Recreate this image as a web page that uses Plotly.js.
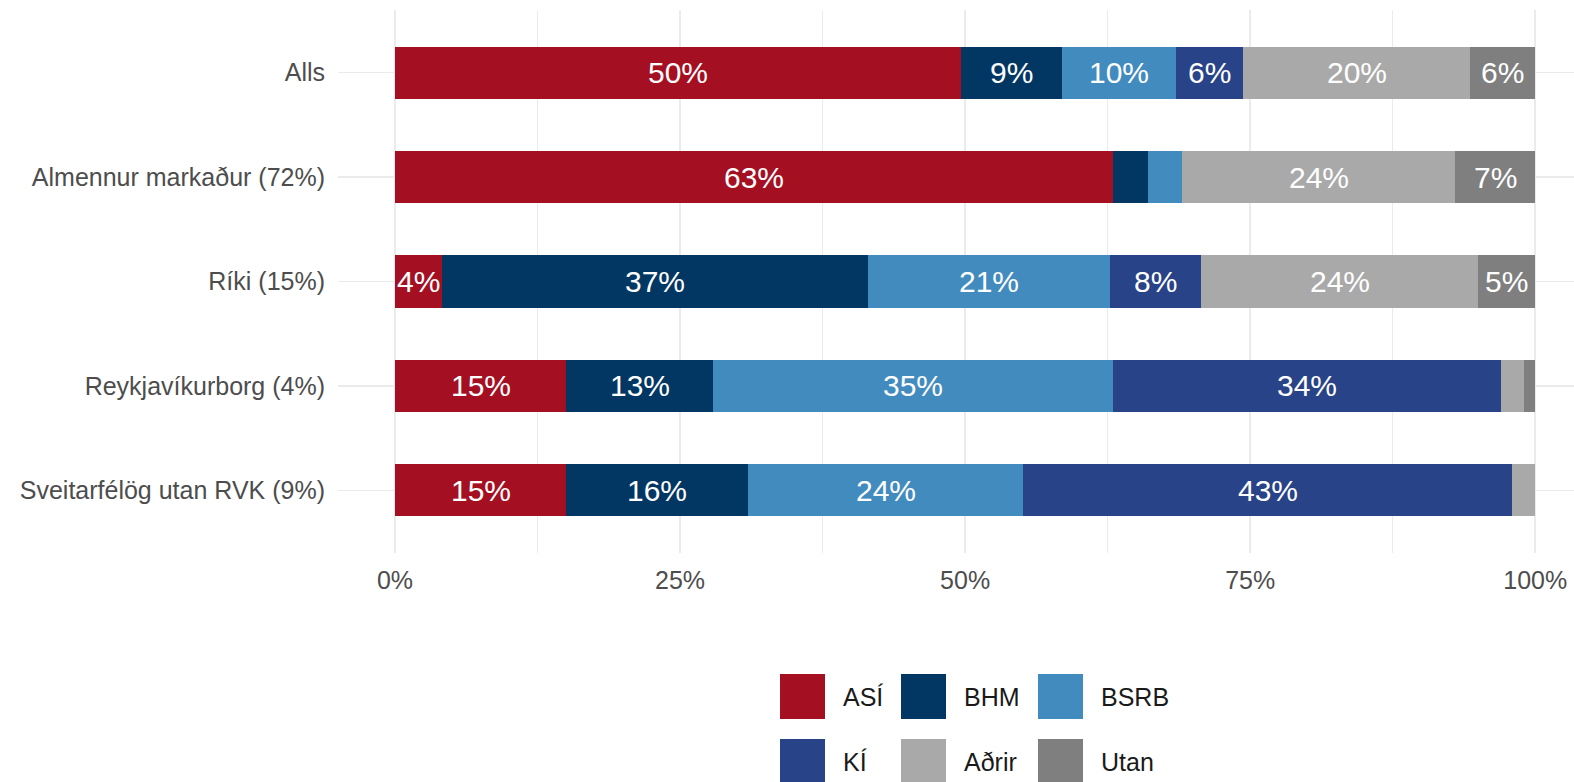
<!DOCTYPE html>
<html>
<head>
<meta charset="utf-8">
<script src="https://cdn.plot.ly/plotly-3.0.1.min.js"></script>
<style>html,body{margin:0;padding:0;background:#fff;}#chart{width:1574px;height:782px;}</style>
</head>
<body>
<div id="chart"></div>
<script>
// ---- data ----
const categories = ['Alls', 'Almennur markaður (72%)', 'Ríki (15%)', 'Reykjavíkurborg (4%)', 'Sveitarfélög utan RVK (9%)'];
const seriesNames = ['ASÍ', 'BHM', 'BSRB', 'KÍ', 'Aðrir', 'Utan'];
const asi   = [49.6, 63.0, 4.1, 15.0, 15.0];
const bhm   = [8.9, 3.0, 37.4, 12.9, 16.0];
const bsrb  = [10.0, 3.0, 21.2, 35.1, 24.1];
const ki    = [5.9, 0.0, 8.0, 34.0, 42.9];
const adrir = [19.9, 24.0, 24.3, 2.0, 2.0];
const utan  = [5.7, 7.0, 5.0, 1.0, 0.0];
const xTickVals = [0, 25, 50, 75, 100];
const xTickText = ['0%', '25%', '50%', '75%', '100%'];

// ---- styling ----
const colors = ['#A50F22', '#023763', '#428BBF', '#284387', '#A9A9A9', '#7F7F7F'];
const series = [asi, bhm, bsrb, ki, adrir, utan];
const FONT = 'Liberation Sans, Arial, sans-serif';

const W = 1574, H = 782;
const M = {l: 338, r: 0, t: 10, b: 229};
const plotW = W - M.l - M.r, plotH = H - M.t - M.b;
const px2x = X => (X - M.l) / plotW;
const px2y = Y => (H - M.b - Y) / plotH;

const traces = series.map((vals, i) => ({
  type: 'bar',
  orientation: 'h',
  name: seriesNames[i],
  y: categories,
  x: vals,
  marker: {color: colors[i], line: {width: 0}},
  showlegend: false,
  hoverinfo: 'name+x'
}));

// in-bar labels
const annotations = [];
const cum = categories.map(() => 0);
series.forEach((vals, i) => {
  vals.forEach((v, j) => {
    const mid = cum[j] + v / 2;
    cum[j] += v;
    if (v >= 3.5) {
      annotations.push({
        x: mid, y: categories[j], xref: 'x', yref: 'y',
        text: Math.round(v) + '%', showarrow: false,
        font: {family: FONT, size: 30, color: '#ffffff'}
      });
    }
  });
});

// custom legend (2 rows x 3 columns)
const shapes = [];
const colX = [780, 901, 1038];
const rowY = [674, 739];
const sw = 45;
seriesNames.forEach((nm, i) => {
  const c = i % 3, r = Math.floor(i / 3);
  const x0 = colX[c], y0 = rowY[r];
  shapes.push({
    type: 'rect', xref: 'paper', yref: 'paper',
    x0: px2x(x0), x1: px2x(x0 + sw), y0: px2y(y0), y1: px2y(y0 + sw),
    fillcolor: colors[i], line: {width: 0}, layer: 'above'
  });
  annotations.push({
    xref: 'paper', yref: 'paper', x: px2x(x0 + 61), y: px2y(y0 + sw / 2),
    xanchor: 'left', yanchor: 'middle', showarrow: false,
    text: nm, font: {family: FONT, size: 25, color: '#1a1a1a'}
  });
});

const layout = {
  width: W, height: H,
  margin: M,
  paper_bgcolor: '#ffffff', plot_bgcolor: '#ffffff',
  barmode: 'stack', bargap: 0.5,
  font: {family: FONT, size: 25, color: '#4D4D4D'},
  xaxis: {
    range: [-5, 103.4], tickvals: xTickVals, ticktext: xTickText,
    showgrid: true, gridcolor: '#EBEBEB', gridwidth: 1.6,
    minor: {dtick: 12.5, tick0: 0, showgrid: true, gridcolor: '#EBEBEB', gridwidth: 1},
    zeroline: false, showline: false, ticks: '', automargin: false,
    ticklabelstandoff: 10,
    tickfont: {family: FONT, size: 25, color: '#4D4D4D'}, fixedrange: true
  },
  yaxis: {
    type: 'category', categoryorder: 'array', categoryarray: categories,
    range: [4.6, -0.6],
    showgrid: true, gridcolor: '#EBEBEB', gridwidth: 1.6,
    zeroline: false, showline: false, ticks: '', automargin: false,
    ticklabelstandoff: 12,
    tickfont: {family: FONT, size: 25, color: '#4D4D4D'}, fixedrange: true
  },
  shapes: shapes,
  annotations: annotations
};

Plotly.newPlot('chart', traces, layout, {displayModeBar: false, staticPlot: true});
</script>
</body>
</html>
